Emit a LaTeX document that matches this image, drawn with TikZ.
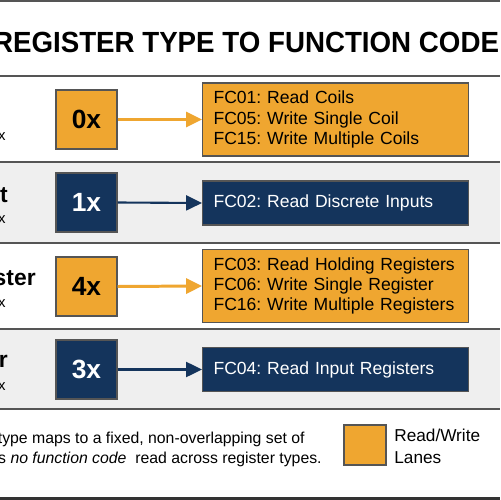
\documentclass[tikz,border=0pt]{standalone}
\usepackage{fontspec}
\setmainfont{Liberation Sans}
\usetikzlibrary{arrows.meta}
\definecolor{orng}{HTML}{EFA630}
\definecolor{navy}{HTML}{14345C}
\definecolor{rowgray}{HTML}{EFEFEF}
\definecolor{rulec}{HTML}{555555}
\frenchspacing
\tikzset{
  codebox/.style={draw=rulec, line width=0.6pt, minimum width=1.22cm, minimum height=1.18cm, inner sep=0pt,
    font=\fontsize{15pt}{16pt}\selectfont\bfseries},
  rwcode/.style={codebox, fill=orng, text=black},
  rocode/.style={codebox, fill=navy, text=white},
  fcbox/.style={draw=rulec, line width=0.6pt, anchor=west, text width=4.88cm, inner xsep=0.22cm, inner ysep=0pt,
    align=left, font=\fontsize{10pt}{11.6pt}\selectfont},
  rwfc/.style={fcbox, fill=orng, text=black, minimum height=1.46cm},
  rofc/.style={fcbox, fill=navy, text=white, minimum height=0.88cm},
  rwarrow/.style={draw=orng, line width=1.7pt, -{Triangle[length=9pt,width=8.5pt]}},
  roarrow/.style={draw=navy, line width=1.2pt, -{Triangle[length=9pt,width=8.5pt]}},
  biglabel/.style={anchor=base east, inner sep=0pt, font=\fontsize{13pt}{15pt}\selectfont\bfseries},
  smalllabel/.style={anchor=base east, inner sep=0pt, font=\fontsize{8.5pt}{10pt}\selectfont},
  rowrule/.style={draw=rulec, line width=0.7pt},
  notetext/.style={anchor=base east, inner sep=0pt, font=\fontsize{9pt}{11pt}\selectfont},
  legendtext/.style={anchor=base west, inner sep=0pt, font=\fontsize{9.8pt}{11pt}\selectfont},
}
\begin{document}
\begin{tikzpicture}[x=0.02cm, y=-0.02cm]
\useasboundingbox (0,0) rectangle (500,500);
\clip (0,0) rectangle (500,500);
\fill[white] (0,0) rectangle (500,500);
\fill[rowgray] (0,162) rectangle (500,243);
\fill[rowgray] (0,329) rectangle (500,409);
% rules
\draw[rowrule, line width=1.2pt] (0,1) -- (500,1);
\draw[rowrule] (0,76) -- (500,76);
\draw[rowrule] (0,162) -- (500,162);
\draw[rowrule] (0,243) -- (500,243);
\draw[rowrule] (0,329) -- (500,329);
\draw[rowrule] (0,409) -- (500,409);
\draw[draw=black!80, line width=1.8pt] (0,498.5) -- (500,498.5);
% title
\node[inner sep=0pt, anchor=base] (title) at (246,53) {\scalebox{0.95}[1]{\fontsize{16.6pt}{18pt}\selectfont\bfseries REGISTER TYPE TO FUNCTION CODE}};
% left labels (cut off at the left edge)
\node[smalllabel] (l1x) at (6,140) {x};
\node[biglabel] (l2) at (8,202) {t};
\node[smalllabel] (l2x) at (6,223) {x};
\node[biglabel] (l3) at (36,285) {ster};
\node[smalllabel] (l3x) at (6,307) {x};
\node[biglabel] (l4) at (8,367) {r};
\node[smalllabel] (l4x) at (6,390) {x};
% code boxes
\node[rwcode] (c0) at (86.5,119.5) {0x};
\node[rocode] (c1) at (86.5,202.5) {1x};
\node[rwcode] (c4) at (86.5,286.5) {4x};
\node[rocode] (c3) at (86.5,369.5) {3x};
% function code boxes
\node[rwfc] (f0) at (202,119.5) {\mbox{FC01: Read Coils}\\\mbox{FC05: Write Single Coil}\\\mbox{FC15: Write Multiple Coils}};
\node[rofc] (f1) at (202,203) {\mbox{FC02: Read Discrete Inputs}};
\node[rwfc] (f4) at (202,286) {\mbox{FC03: Read Holding Registers}\\\mbox{FC06: Write Single Register}\\\mbox{FC16: Write Multiple Registers}};
\node[rofc] (f3) at (202,369.5) {\mbox{FC04: Read Input Registers}};
% arrows
\draw[rwarrow] (c0.east) -- (f0.west);
\draw[roarrow] (c1.east) -- (f1.west);
\draw[rwarrow] (c4.east) -- (f4.west);
\draw[roarrow] (c3.east) -- (f3.west);
% footnote
\node[notetext] (n1) at (305,443) {type maps to a fixed, non-overlapping set of};
\node[notetext] (n2) at (322,463) {s \textit{no function code}\ \ read across register types.};
% legend
\node[draw=rulec, line width=0.6pt, fill=orng, minimum width=0.84cm, minimum height=0.8cm, inner sep=0pt] (lg) at (365,445) {};
\node[legendtext] (lgt1) at (394,441) {Read/Write};
\node[legendtext] (lgt2) at (394,463) {Lanes};
\end{tikzpicture}
\end{document}
